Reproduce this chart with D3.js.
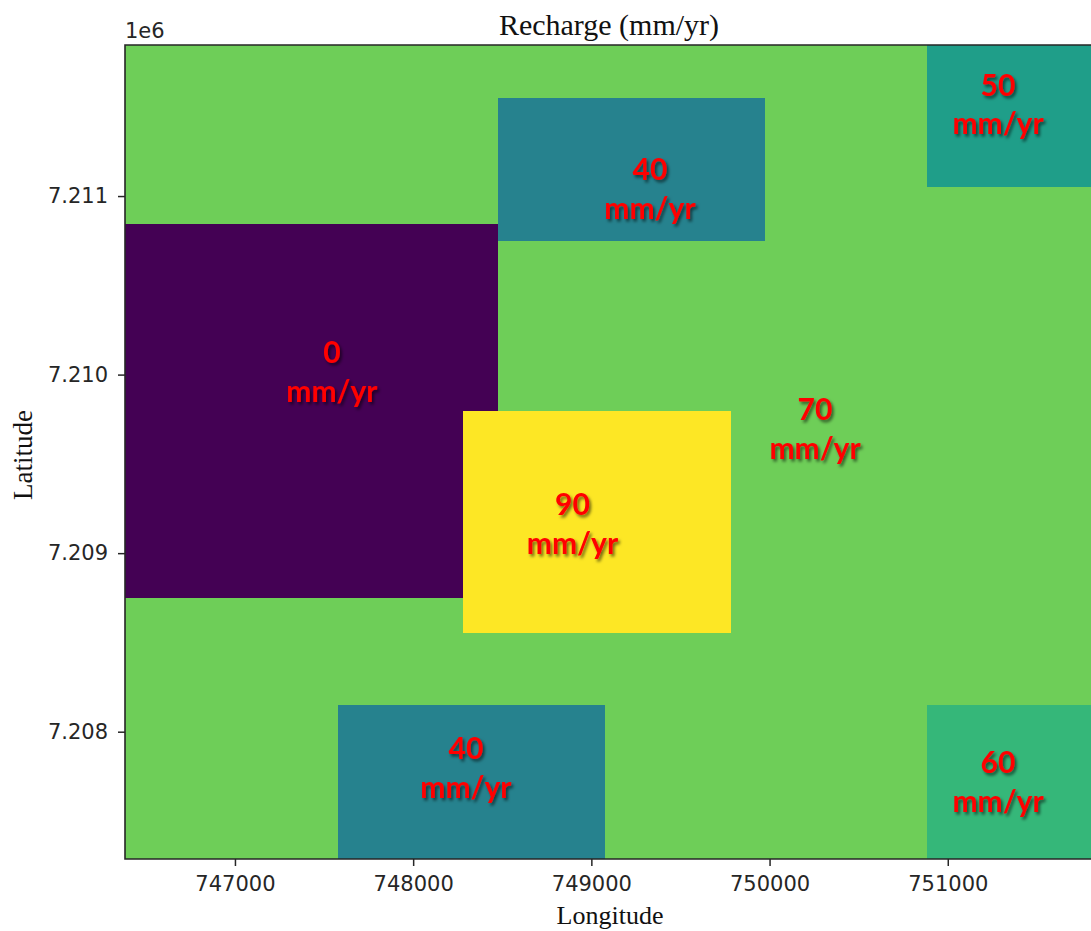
<!DOCTYPE html>
<html>
<head>
<meta charset="utf-8">
<script src="https://cdn.jsdelivr.net/npm/d3@7"></script>
<style>
  html, body { margin: 0; padding: 0; background: #fff; }
  svg { display: block; }
</style>
</head>
<body>
<svg id="chart" width="1091" height="931"></svg>
<script>
// Map extent (UTM metres)
const xExtent = [746383, 751815];
const yExtent = [7207287, 7211846];

// Recharge zones, drawn in order (the first one is the background zone)
const zoneValues = [70, 0, 90, 40, 50, 40, 60];
const zoneX0 = [746383, 746383, 748280, 748478, 750885, 747578, 750885];
const zoneX1 = [751815, 748478, 749785, 749975, 751815, 749076, 751815];
const zoneY0 = [7207287, 7208748, 7208554, 7210748, 7211050, 7207287, 7207287];
const zoneY1 = [7211846, 7210843, 7209797, 7211549, 7211846, 7208148, 7208148];

// Zone annotations (value + unit), anchored in map coordinates
const labelValues = [0, 40, 50, 70, 90, 40, 60];
const labelX = [747544, 749329, 751282, 750255, 748894, 748296, 751282];
const labelY = [7209958, 7210983, 7211454, 7209639, 7209106, 7207740, 7207661];
const labelUnit = "mm/yr";

// Axis ticks
const xTicks = [747000, 748000, 749000, 750000, 751000];
const yTicks = [7208000, 7209000, 7210000, 7211000];

const svg = d3.select("#chart");
const margin = { left: 125, top: 45 };
const plotW = 968, plotH = 814;

const x = d3.scaleLinear().domain(xExtent).range([0, plotW]);
const y = d3.scaleLinear().domain(yExtent).range([plotH, 0]);
const color = d3.scaleSequential(d3.interpolateViridis).domain([0, 90]);

const defs = svg.append("defs");
const shadow = defs.append("filter").attr("id", "txtShadow")
  .attr("x", "-20%").attr("y", "-20%").attr("width", "140%").attr("height", "140%");
shadow.append("feDropShadow")
  .attr("dx", 2).attr("dy", 2.5).attr("stdDeviation", 1.4)
  .attr("flood-color", "#000").attr("flood-opacity", 0.55);

const g = svg.append("g").attr("transform", `translate(${margin.left},${margin.top})`);

// Zone rectangles
const zones = zoneValues.map((v, i) => ({ v, x0: zoneX0[i], x1: zoneX1[i], y0: zoneY0[i], y1: zoneY1[i] }));
g.append("g").selectAll("rect").data(zones).join("rect")
  .attr("x", d => x(d.x0))
  .attr("y", d => y(d.y1))
  .attr("width", d => x(d.x1) - x(d.x0))
  .attr("height", d => y(d.y0) - y(d.y1))
  .attr("fill", d => color(d.v))
  .attr("shape-rendering", "crispEdges");

// Zone labels
const labels = labelValues.map((v, i) => ({ v, x: labelX[i], y: labelY[i] }));
const lab = g.append("g")
  .attr("font-family", "Lato, 'Open Sans', sans-serif")
  .attr("font-weight", "bold")
  .attr("font-size", 30)
  .attr("fill", "#ff0000")
  .attr("text-anchor", "middle")
  .attr("filter", "url(#txtShadow)");
labels.forEach(d => {
  const t = lab.append("text").attr("x", x(d.x)).attr("y", y(d.y));
  t.append("tspan").attr("x", x(d.x)).attr("dy", -19).text(d.v);
  t.append("tspan").attr("x", x(d.x)).attr("dy", 38.5).text(labelUnit);
});

// Axes
const tickFont = "'DejaVu Sans', sans-serif";
const xAxis = d3.axisBottom(x).tickValues(xTicks).tickFormat(d3.format("d"))
  .tickSize(7).tickPadding(10);
const yAxis = d3.axisLeft(y).tickValues(yTicks).tickFormat(d => (d / 1e6).toFixed(3))
  .tickSize(7).tickPadding(10);

const gx = g.append("g").attr("transform", `translate(0,${plotH})`).call(xAxis);
const gy = g.append("g").call(yAxis);
[gx, gy].forEach(a => {
  a.select(".domain").remove();
  a.selectAll(".tick line").attr("stroke", "#262626").attr("stroke-width", 1.5);
  a.selectAll(".tick text").attr("fill", "#262626")
    .attr("font-family", tickFont).attr("font-size", 21);
});

// Spines (left, top, bottom; right edge lies outside the view)
const spine = g.append("g").attr("stroke", "#262626").attr("stroke-width", 1.6).attr("fill", "none");
spine.append("path").attr("d", `M${plotW},0H0V${plotH}H${plotW}`);

// Offset text for the y axis
svg.append("text").attr("x", margin.left).attr("y", 38)
  .attr("font-family", tickFont).attr("font-size", 21).attr("fill", "#262626")
  .text("1e6");

// Title and axis titles
svg.append("text").attr("x", 609).attr("y", 35)
  .attr("text-anchor", "middle")
  .attr("font-family", "'Liberation Serif', 'Times New Roman', serif")
  .attr("font-size", 30).attr("fill", "#111")
  .text("Recharge (mm/yr)");

svg.append("text").attr("x", 610).attr("y", 924)
  .attr("text-anchor", "middle")
  .attr("font-family", "'Liberation Serif', 'Times New Roman', serif")
  .attr("font-size", 26).attr("fill", "#111")
  .text("Longitude");

svg.append("text")
  .attr("transform", "translate(32,455) rotate(-90)")
  .attr("text-anchor", "middle")
  .attr("font-family", "'Liberation Serif', 'Times New Roman', serif")
  .attr("font-size", 27).attr("fill", "#111")
  .text("Latitude");
</script>
</body>
</html>
